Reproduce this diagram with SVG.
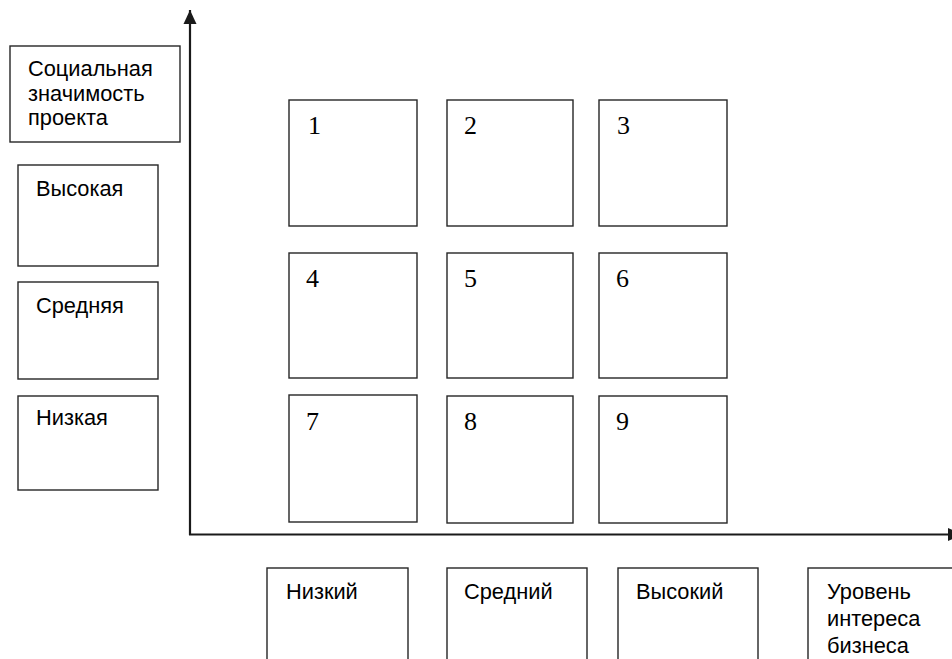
<svg xmlns="http://www.w3.org/2000/svg" width="952" height="659" viewBox="0 0 952 659">
<style>
.box{fill:#fff;stroke:#262626;stroke-width:1.4}
.lbl{font-family:"Liberation Sans",Arial,sans-serif;font-size:21.8px;fill:#000}
.num{font-family:"Liberation Serif","Times New Roman",serif;font-size:26px;fill:#000}
.axis{stroke:#1a1a1a;stroke-width:2.2;fill:none}
</style>
<defs>
<marker id="ahv" markerWidth="14" markerHeight="14" refX="14" refY="6.5" orient="auto" markerUnits="userSpaceOnUse" viewBox="0 0 14 13">
<path d="M0,0 L14,6.5 L0,13 Z" fill="#1a1a1a"/>
</marker>
</defs>
<rect width="952" height="659" fill="#fff"/>
<g id="connectors">
<line class="axis" x1="190" y1="535" x2="190" y2="10" marker-end="url(#ahv)"/>
<line class="axis" x1="189" y1="534.5" x2="962" y2="534.5" marker-end="url(#ahv)"/>
</g>
<g id="y-title">
<rect class="box" x="10" y="46" width="170" height="96"/>
<text class="lbl" x="28" y="76">Социальная</text>
<text class="lbl" x="28" y="100.5">значимость</text>
<text class="lbl" x="28" y="125">проекта</text>
</g>
<g id="y-high"><rect class="box" x="18" y="165" width="140" height="101"/><text class="lbl" x="36" y="196">Высокая</text></g>
<g id="y-mid"><rect class="box" x="18" y="282" width="140" height="97"/><text class="lbl" x="36" y="313">Средняя</text></g>
<g id="y-low"><rect class="box" x="18" y="396" width="140" height="94"/><text class="lbl" x="36" y="425">Низкая</text></g>
<g id="cell1"><rect class="box" x="289" y="100" width="128" height="126"/><text class="num" x="308" y="134">1</text></g>
<g id="cell2"><rect class="box" x="447" y="100" width="126" height="126"/><text class="num" x="464" y="134">2</text></g>
<g id="cell3"><rect class="box" x="599" y="100" width="128" height="126"/><text class="num" x="617" y="134">3</text></g>
<g id="cell4"><rect class="box" x="289" y="253" width="128" height="125"/><text class="num" x="306" y="287">4</text></g>
<g id="cell5"><rect class="box" x="447" y="253" width="126" height="125"/><text class="num" x="464" y="287">5</text></g>
<g id="cell6"><rect class="box" x="599" y="253" width="128" height="125"/><text class="num" x="616" y="287">6</text></g>
<g id="cell7"><rect class="box" x="289" y="395" width="128" height="127"/><text class="num" x="306" y="430">7</text></g>
<g id="cell8"><rect class="box" x="447" y="396" width="126" height="127"/><text class="num" x="464" y="430">8</text></g>
<g id="cell9"><rect class="box" x="599" y="396" width="128" height="127"/><text class="num" x="616" y="430">9</text></g>
<g id="x-low"><rect class="box" x="267" y="568" width="141" height="100"/><text class="lbl" x="286" y="599">Низкий</text></g>
<g id="x-mid"><rect class="box" x="447" y="568" width="140" height="100"/><text class="lbl" x="464" y="599">Средний</text></g>
<g id="x-high"><rect class="box" x="618" y="568" width="140" height="100"/><text class="lbl" x="636" y="599">Высокий</text></g>
<g id="x-title">
<rect class="box" x="808" y="568" width="160" height="100"/>
<text class="lbl" x="827" y="599">Уровень</text>
<text class="lbl" x="827" y="626">интереса</text>
<text class="lbl" x="827" y="653">бизнеса</text>
</g>
</svg>
